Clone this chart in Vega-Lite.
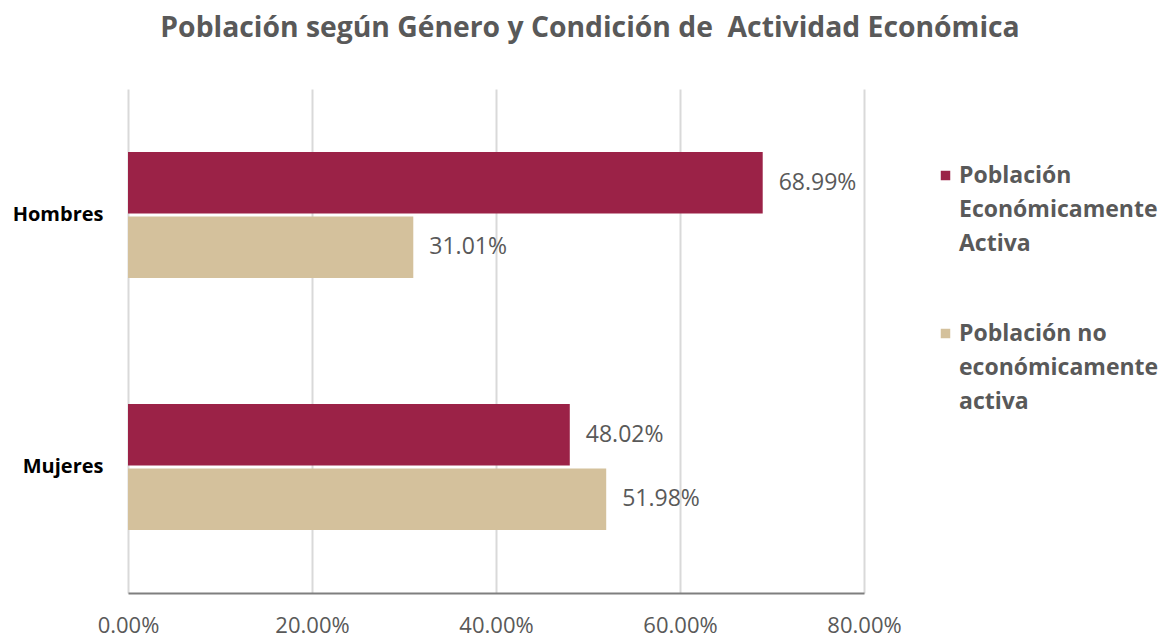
{
  "$schema": "https://vega.github.io/schema/vega-lite/v6.json",
  "autosize": {"type": "none"},
  "padding": {"left": 128, "top": 89, "right": 301, "bottom": 41},
  "width": 736,
  "height": 504,
  "background": "white",
  "title": {
    "text": "Población según Género y Condición de\u00a0 Actividad Económica",
    "font": "Open Sans",
    "fontSize": 28.3,
    "fontWeight": "bold",
    "color": "#595959",
    "anchor": "middle",
    "frame": "group",
    "dx": 94,
    "baseline": "alphabetic",
    "offset": 24
  },
  "data": {
    "values": [
      {"genero": "Hombres", "tipo": "Población Económicamente Activa", "valor": 0.6899},
      {"genero": "Hombres", "tipo": "Población no económicamente activa", "valor": 0.3101},
      {"genero": "Mujeres", "tipo": "Población Económicamente Activa", "valor": 0.4802},
      {"genero": "Mujeres", "tipo": "Población no económicamente activa", "valor": 0.5198}
    ]
  },
  "encoding": {
    "y": {
      "field": "genero",
      "type": "nominal",
      "title": null,
      "sort": ["Hombres", "Mujeres"],
      "scale": {"paddingInner": 0.5, "paddingOuter": 0.25},
      "axis": {
        "domain": false,
        "ticks": false,
        "tickSize": 0,
        "labelPadding": 25,
        "labelFont": "Open Sans",
        "labelFontSize": 20,
        "labelFontWeight": "bold",
        "labelColor": "#000000"
      }
    },
    "yOffset": {
      "field": "tipo",
      "type": "nominal",
      "sort": ["Población Económicamente Activa", "Población no económicamente activa"],
      "scale": {"paddingInner": 0.05}
    },
    "x": {
      "field": "valor",
      "type": "quantitative",
      "title": null,
      "scale": {"domain": [0, 0.8], "nice": false},
      "axis": {
        "format": ".2%",
        "values": [0, 0.2, 0.4, 0.6, 0.8],
        "grid": true,
        "gridColor": "#d9d9d9",
        "gridWidth": 2,
        "domainColor": "#7f7f7f",
        "domainWidth": 2,
        "ticks": false,
        "tickSize": 0,
        "labelFlush": false,
        "labelPadding": 22,
        "labelFont": "Open Sans",
        "labelFontSize": 22,
        "labelColor": "#595959"
      }
    }
  },
  "layer": [
    {
      "mark": {"type": "bar"},
      "encoding": {
        "color": {
          "field": "tipo",
          "type": "nominal",
          "sort": ["Población Económicamente Activa", "Población no económicamente activa"],
          "scale": {"range": ["#9B2247", "#D4C19C"]},
          "legend": {
            "title": null,
            "orient": "none",
            "legendX": 806,
            "legendY": 75,
            "symbolType": "square",
            "symbolSize": 90,
            "symbolStrokeWidth": 0,
            "labelFont": "Open Sans",
            "labelFontSize": 23,
            "labelFontWeight": "bold",
            "labelColor": "#595959",
            "labelLimit": 400,
            "labelOffset": 2,
            "labelExpr": "datum.label == 'Población Económicamente Activa' ? ['Población', 'Económicamente', 'Activa'] : ['Población no', 'económicamente', 'activa']",
            "labelBaseline": "middle",
            "rowPadding": 66
          }
        }
      }
    },
    {
      "mark": {
        "type": "text",
        "align": "left",
        "dx": 16,
        "font": "Open Sans",
        "fontSize": 23,
        "color": "#595959"
      },
      "encoding": {
        "text": {"field": "valor", "type": "quantitative", "format": ".2%"}
      }
    }
  ],
  "config": {
    "view": {"stroke": null},
    "style": {"guide-label": {"lineHeight": 34}}
  }
}
